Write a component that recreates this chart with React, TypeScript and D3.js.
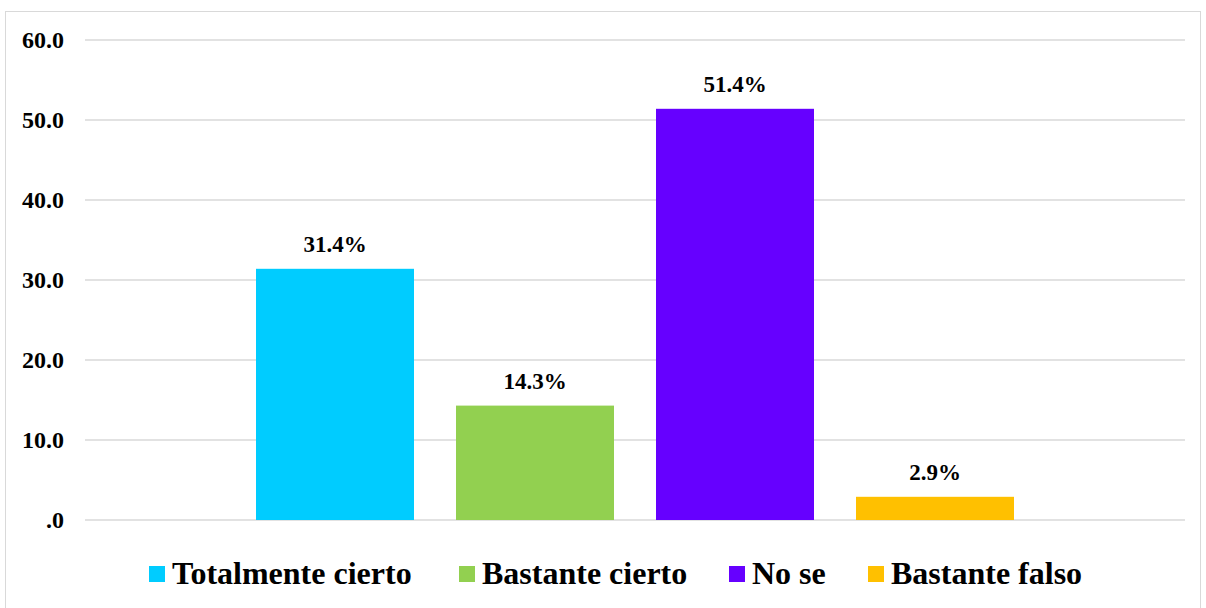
import React from "react";
import * as d3 from "d3";

const series = ["Totalmente cierto", "Bastante cierto", "No se", "Bastante falso"];
const values = [31.4, 14.3, 51.4, 2.9];
const colors = ["#00CCFF", "#92D050", "#6600FF", "#FFC000"];
const yTicks = [0, 10, 20, 30, 40, 50, 60];

const W = 1206;
const H = 608;
const plotLeft = 85;
const plotRight = 1185;
const font = "'Liberation Serif', serif";

export default function App() {
  const y = d3.scaleLinear().domain([0, 60]).range([520, 40]);
  const x = d3
    .scaleBand<string>()
    .domain(series)
    .range([235, 1035])
    .paddingInner(0.21)
    .paddingOuter(0.105);

  const fmtTick = (v: number) => (v === 0 ? ".0" : d3.format(".1f")(v));

  const legendX = [149, 459, 729, 868];

  return (
    <svg
      width={W}
      height={H}
      style={{ position: "absolute", left: 0, top: 0, background: "#fff", fontFamily: font }}
    >
      <rect x={5.5} y={11.5} width={1195} height={605} fill="#fff" stroke="#d9d9d9" strokeWidth={1} />
      {yTicks.map((t) => (
        <g key={t}>
          <line x1={plotLeft} x2={plotRight} y1={y(t)} y2={y(t)} stroke="#d9d9d9" strokeWidth={1.3} />
          <text x={64} y={y(t) + 8} textAnchor="end" fontSize={24} fontWeight="bold" fill="#000">
            {fmtTick(t)}
          </text>
        </g>
      ))}
      {series.map((s, i) => (
        <g key={s}>
          <rect
            x={x(s)}
            y={y(values[i])}
            width={x.bandwidth()}
            height={y(0) - y(values[i])}
            fill={colors[i]}
          />
          <text
            x={(x(s) as number) + x.bandwidth() / 2}
            y={y(values[i]) - 17}
            textAnchor="middle"
            fontSize={23}
            fontWeight="bold"
            fill="#000"
          >
            {values[i].toFixed(1) + "%"}
          </text>
        </g>
      ))}
      {series.map((s, i) => (
        <g key={"lg" + s}>
          <rect x={legendX[i]} y={566} width={16} height={16} fill={colors[i]} />
          <text x={legendX[i] + 23} y={584} fontSize={32} fontWeight="bold" fill="#000">
            {s}
          </text>
        </g>
      ))}
    </svg>
  );
}
